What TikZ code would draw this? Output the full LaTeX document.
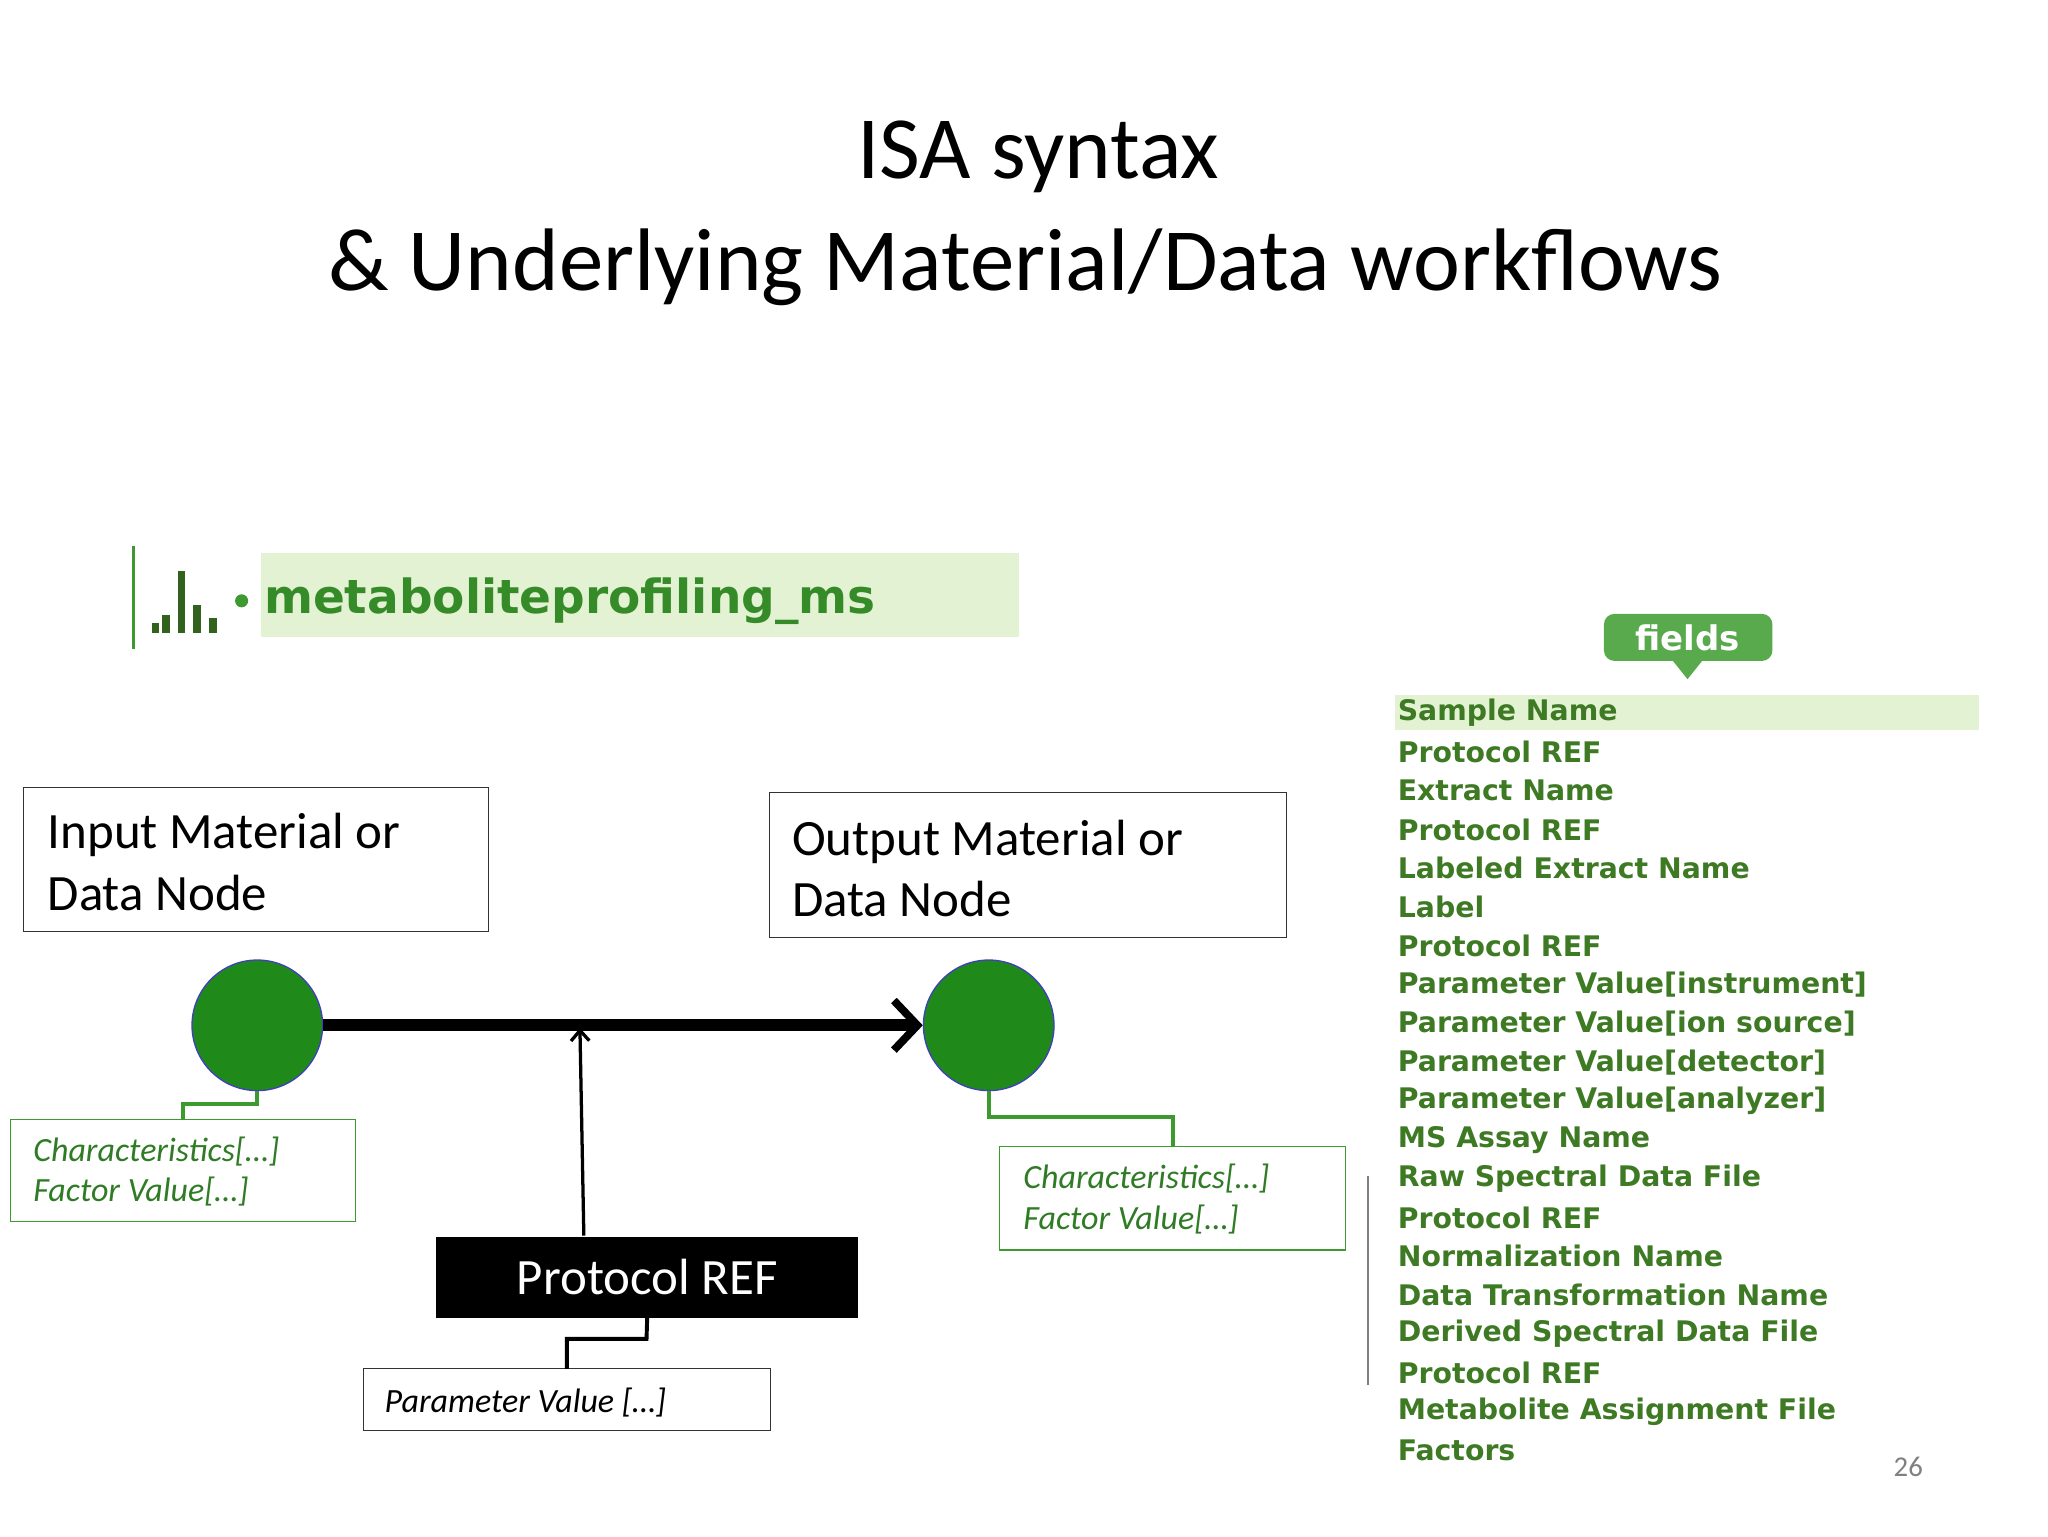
\documentclass[tikz,border=0pt]{standalone}
\usepackage{fontspec}
\setmainfont{Carlito}
\newfontfamily\verd{DejaVu Sans}
\usetikzlibrary{arrows.meta}
\definecolor{fgreen}{HTML}{3E7A24}
\definecolor{lgreen}{HTML}{E3F2D3}
\definecolor{cgreen}{HTML}{1F8A1A}
\definecolor{bgreen}{HTML}{3C9A2E}
\begin{document}
\begin{tikzpicture}[x=1pt,y=-1pt,
  box/.style={draw=black!80,line width=0.8pt,inner sep=0pt},
  cbox/.style={draw=bgreen,line width=0.8pt,inner sep=0pt},
  circ/.style={circle,fill=cgreen,draw=blue!50!gray,line width=1pt,minimum size=100pt,inner sep=0pt},
  big/.style={font=\fontsize{39}{47}\selectfont,align=left,anchor=west},
  ital/.style={font=\fontsize{26}{31}\selectfont\itshape,align=left,anchor=west},
  fld/.style={font=\verd\bfseries\fontsize{21.7}{23}\selectfont,text=fgreen,anchor=west,inner sep=0pt},
  gline/.style={bgreen,line width=3pt}]
\useasboundingbox (0,0) rectangle (1568,1176);
% title
\node (t1) at (795,120) {\fontsize{68}{78}\selectfont ISA syntax};
\node (t2) at (785,205) {\fontsize{68}{78}\selectfont \& Underlying Material/Data workflows};
% logo
\draw[bgreen,line width=2pt] (102,418) -- (102,497);
\fill[lgreen] (200,423) rectangle (780,488);
\foreach \x/\h in {116/8,124/14,136/48,148/22,160/12}{\fill[fgreen!80!black] (\x,485) rectangle ++(6,-\h);}
\fill[bgreen] (185,460) circle (5);
\node[anchor=west,inner sep=0pt,text=bgreen!90!black,font=\verd\bfseries\fontsize{36}{40}\selectfont] (logo) at (202,460) {metaboliteprofiling\_ms};
% fields tag
\fill[bgreen!85!white,rounded corners=8pt] (1228,470) rectangle (1357,506);
\fill[bgreen!85!white] (1280,505) -- (1304,505) -- (1292,520) -- cycle;
\node[text=white,font=\verd\bfseries\fontsize{26}{28}\selectfont] (fields) at (1292,488) {fields};
\fill[lgreen] (1068,532) rectangle (1515,559);
\draw[gray,line width=1.5pt] (1047,900) -- (1047,1060);
\foreach \t [count=\i from 0] in {Sample Name,Protocol REF,Extract Name,Protocol REF,Labeled Extract Name,Label,Protocol REF,Parameter Value[instrument],Parameter Value[ion source],Parameter Value[detector],Parameter Value[analyzer],MS Assay Name,Raw Spectral Data File,Protocol REF,Normalization Name,Data Transformation Name,Derived Spectral Data File,Protocol REF,Metabolite Assignment File,Factors}
  {\node[fld] (f\i) at (1070,{546+29.7*\i}) {\t};}
% boxes
\draw[box] (18,603) rectangle (374,713);
\node[big] (in) at (33,660) {Input Material or\\Data Node};
\draw[box] (589,607) rectangle (985,718);
\node[big] (out) at (603,665) {Output Material or\\Data Node};
\node[circ] (c1) at (197,785) {};
\node[circ] (c2) at (757,785) {};
\draw[line width=9pt,-{Straight Barb[length=18pt,width=38pt,line width=6pt]}] (c1) -- (c2);
\coordinate (j) at (444,787);
\node[fill=black,minimum width=323pt,minimum height=62pt,text=white,font=\fontsize{39}{44}\selectfont] (pr) at (495.5,978) {Protocol REF};
\draw[line width=2.5pt,-{Straight Barb[length=8pt,width=14pt]}] (447,946) -- (j);
\node[box,minimum width=312pt,minimum height=47pt] (pv) at (434,1071.5) {};
\node[ital] at (291,1074) {Parameter Value [\dots]};
\draw[line width=3pt] (pr.south) -- (495,1025) -| (434,1048);
\node[cbox,minimum width=264pt,minimum height=78pt] (ch1) at (140,896) {};
\node[ital,text=bgreen!80!black] at (22,897) {Characteristics[\dots]\\Factor Value[\dots]};
\draw[gline] (c1.south) -- (197,845) -| (ch1.north);
\node[cbox,minimum width=265pt,minimum height=79pt] (ch2) at (897.5,917.5) {};
\node[ital,text=bgreen!80!black] at (780,918) {Characteristics[\dots]\\Factor Value[\dots]};
\draw[gline] (c2.south) -- (757,855) -| (898,878);
\node[text=gray,font=\fontsize{22}{24}\selectfont] (pg) at (1461,1123) {26};
\end{tikzpicture}
\end{document}
